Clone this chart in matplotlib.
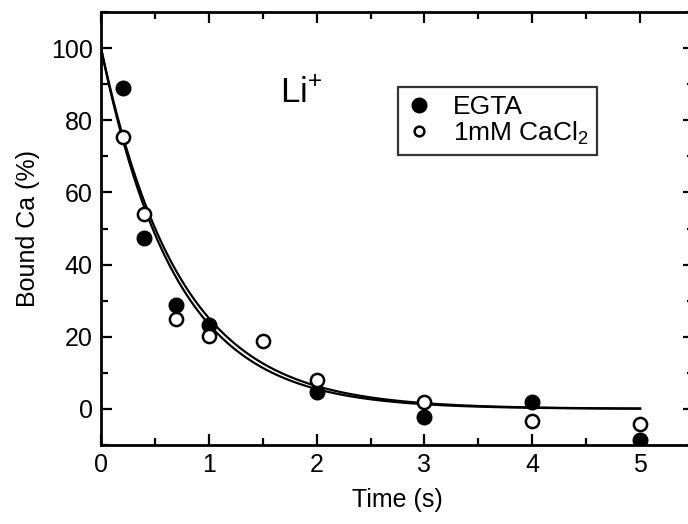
import numpy as np
import matplotlib
matplotlib.use("Agg")
import matplotlib.pyplot as plt
from matplotlib.ticker import MultipleLocator

plt.rcParams['font.family'] = ['Liberation Sans', 'DejaVu Sans']
plt.rcParams['mathtext.fontset'] = 'custom'
plt.rcParams['mathtext.rm'] = 'Liberation Sans'

# measured points
t_egta = [0.2, 0.4, 0.7, 1.0, 2.0, 3.0, 4.0, 5.0]
ca_egta = [89, 47.5, 28.7, 23.3, 4.7, -2.2, 1.9, -8.6]
t_cacl = [0.2, 0.4, 0.7, 1.0, 1.5, 2.0, 3.0, 4.0, 5.0]
ca_cacl = [75.3, 54.0, 24.8, 20.3, 18.7, 8.1, 1.9, -3.3, -4.3]

# single exponential fits (100 % at t = 0), time constants in s
tau_egta = 0.69
tau_cacl = 0.725
t_fit_end = 5.0

fig = plt.figure(figsize=(6.88, 5.24), dpi=100)
ax = fig.add_axes([0.1468, 0.1508, 0.862, 0.8262])

tt = np.linspace(0, t_fit_end, 400)
ax.plot(tt, 100*np.exp(-tt/tau_egta), color='black', lw=1.6, zorder=2)
ax.plot(tt, 100*np.exp(-tt/tau_cacl), color='black', lw=1.6, zorder=2)

ax.plot(t_egta, ca_egta, 'o', color='black', ms=10.5, ls='none',
        label='EGTA', zorder=3)
ax.plot(t_cacl, ca_cacl, 'o', mfc='white', mec='black', mew=1.8, ms=9.5,
        ls='none', label='1mM CaCl$_2$', zorder=4)

ax.set_xlim(0, 5.5)
ax.set_ylim(-10, 110)
ax.xaxis.set_major_locator(MultipleLocator(1))
ax.xaxis.set_minor_locator(MultipleLocator(0.5))
ax.yaxis.set_major_locator(MultipleLocator(20))
ax.yaxis.set_minor_locator(MultipleLocator(10))
ax.tick_params(which='both', direction='in', top=True, right=True,
               width=1.6, labelsize=18, pad=6)
ax.tick_params(which='major', length=8)
ax.tick_params(which='minor', length=5)
for s in ax.spines.values():
    s.set_linewidth(2)

ax.set_xlabel('Time (s)', fontsize=18, labelpad=8)
ax.set_ylabel('Bound Ca (%)', fontsize=18, labelpad=8)

ax.text(1.66, 85, 'Li$^{+}$', fontsize=25, ha='left', va='baseline')

# legend: filled marker large, open marker small, as in the original
leg = ax.legend(loc='upper left', bbox_to_anchor=(0.50, 0.826), borderaxespad=0,
                fontsize=19, frameon=True, fancybox=False, edgecolor='black',
                handletextpad=0.8, borderpad=0.3, labelspacing=0.0,
                handlelength=1.0)
leg.get_frame().set_linewidth(1.6)
leg.legend_handles[1].set_markersize(7)

fig.savefig('out.png', dpi=100)
